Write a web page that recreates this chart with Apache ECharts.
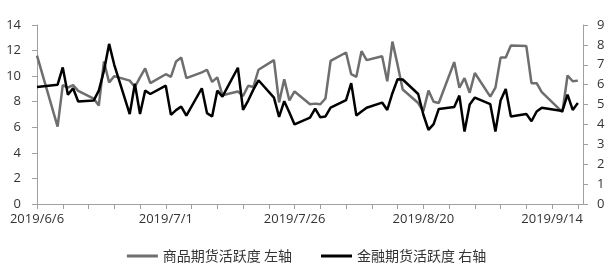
<!DOCTYPE html>
<html>
<head>
<meta charset="utf-8">
<script src="https://cdn.jsdelivr.net/npm/echarts@6/dist/echarts.min.js"></script>
<style>
html,body{margin:0;padding:0;background:#fff;}
#c{width:613px;height:280px;}
</style>
</head>
<body>
<div id="c"></div>
<script>
// trading dates (2019, M/D)
const tradeDates = ['6/6','6/10','6/11','6/12','6/13','6/14','6/17','6/18','6/19','6/20','6/21','6/24','6/25','6/26','6/27','6/28',
'7/1','7/2','7/3','7/4','7/5','7/8','7/9','7/10','7/11','7/12','7/15','7/16','7/17','7/18','7/19','7/22','7/23','7/24','7/25','7/26','7/29','7/30','7/31',
'8/1','8/2','8/5','8/6','8/7','8/8','8/9','8/12','8/13','8/14','8/15','8/16','8/19','8/20','8/21','8/22','8/23','8/26','8/27','8/28','8/29','8/30',
'9/2','9/3','9/4','9/5','9/6','9/9','9/10','9/11','9/12','9/16','9/17','9/18','9/19'];

// 商品期货活跃度 (left axis)
const commodity = [11.6, 6.05, 9.3, 9.1, 9.3, 8.85, 8.25, 7.7, 11.15, 9.5, 10.0, 9.65, 9.15, 9.9, 10.6, 9.45,
10.15, 9.95, 11.15, 11.45, 9.85, 10.3, 10.5, 9.55, 9.9, 8.5, 8.8, 8.45, 9.25, 9.15, 10.5, 11.25, 7.95, 9.75, 8.1, 8.8, 7.8, 7.85, 7.8,
8.25, 11.2, 11.85, 10.15, 9.95, 11.95, 11.25, 11.55, 9.6, 12.7, 10.9, 8.95, 7.9, 7.25, 8.87, 8.0, 7.9, 11.1, 9.1, 9.85, 8.7, 10.25,
8.4, 9.1, 11.45, 11.45, 12.4, 12.35, 9.45, 9.45, 8.75, 7.18, 10.05, 9.6, 9.65];

// 金融期货活跃度 (right axis)
const financial = [5.88, 6.0, 6.87, 5.49, 5.82, 5.15, 5.2, 5.7, 6.7, 8.05, 7.0, 4.52, 6.05, 4.52, 5.7, 5.53,
5.95, 4.48, 4.72, 4.9, 4.44, 5.82, 4.57, 4.4, 5.7, 5.4, 6.85, 4.73, 5.2, 5.75, 6.22, 5.35, 4.38, 5.17, 4.6, 4.0, 4.34, 4.8, 4.36,
4.4, 4.84, 5.22, 6.08, 4.45, 4.65, 4.84, 5.1, 4.73, 5.57, 6.27, 6.26, 5.53, 4.5, 3.73, 4.02, 4.78, 4.88, 5.45, 3.64, 5.0, 5.35,
5.02, 3.64, 5.2, 5.78, 4.4, 4.53, 4.16, 4.65, 4.84, 4.68, 5.5, 4.73, 5.08];

const seriesNames = ['商品期货活跃度 左轴', '金融期货活跃度 右轴'];
const axisStart = '6/6', axisEnd = '9/20', year = 2019;

// calendar categories from axisStart to axisEnd
const cats = [];
{
  const [sm, sd] = axisStart.split('/').map(Number);
  const [em, ed] = axisEnd.split('/').map(Number);
  let d = new Date(year, sm - 1, sd);
  const end = new Date(year, em - 1, ed);
  while (d <= end) {
    cats.push(year + '/' + (d.getMonth() + 1) + '/' + d.getDate());
    d = new Date(d.getFullYear(), d.getMonth(), d.getDate() + 1);
  }
}
function toFull(vals) {
  const m = {};
  tradeDates.forEach((t, i) => { m[year + '/' + t] = vals[i]; });
  return cats.map(c => (c in m ? m[c] : null));
}

const FONT = '"Open Sans", "Noto Sans CJK SC", sans-serif';
const CJK = '"Noto Sans CJK SC", sans-serif';
const axisColor = '#a0a0a0';
const textColor = '#333333';

const chart = echarts.init(document.getElementById('c'), null, {renderer: 'canvas'});
chart.setOption({
  animation: false,
  backgroundColor: '#fff',
  textStyle: {fontFamily: FONT},
  grid: {left: 37, right: 30, top: 25, bottom: 76, containLabel: false},
  legend: {
    top: 244, left: 'center', itemGap: 29, itemWidth: 31, itemHeight: 3,
    icon: 'rect',
    textStyle: {fontSize: 14, color: textColor, fontFamily: CJK},
    data: seriesNames
  },
  xAxis: {
    type: 'category', data: cats, boundaryGap: false,
    axisLine: {lineStyle: {color: axisColor, width: 1}},
    axisTick: {show: true, interval: 4, length: 5, lineStyle: {color: axisColor}},
    axisLabel: {interval: 24, color: textColor, fontSize: 13, margin: 9, fontFamily: FONT},
    splitLine: {show: false}
  },
  yAxis: [
    {type: 'value', min: 0, max: 14, interval: 2, position: 'left',
     axisLine: {show: true, lineStyle: {color: axisColor}},
     axisTick: {show: true, length: 5, lineStyle: {color: axisColor}},
     axisLabel: {color: textColor, fontSize: 13, margin: 16, fontFamily: FONT},
     splitLine: {show: false}},
    {type: 'value', min: 0, max: 9, interval: 1, position: 'right',
     axisLine: {show: true, lineStyle: {color: axisColor}},
     axisTick: {show: true, length: 5, lineStyle: {color: axisColor}},
     axisLabel: {color: textColor, fontSize: 13, margin: 14, fontFamily: FONT},
     splitLine: {show: false}}
  ],
  series: [
    {name: seriesNames[0], type: 'line', yAxisIndex: 0, data: toFull(commodity), connectNulls: true,
     showSymbol: false, symbol: 'none', lineStyle: {color: '#6e6e6e', width: 2.5}, itemStyle: {color: '#6e6e6e'}},
    {name: seriesNames[1], type: 'line', yAxisIndex: 1, data: toFull(financial), connectNulls: true,
     showSymbol: false, symbol: 'none', lineStyle: {color: '#000000', width: 2.5}, itemStyle: {color: '#000000'}}
  ]
});
</script>
</body>
</html>
